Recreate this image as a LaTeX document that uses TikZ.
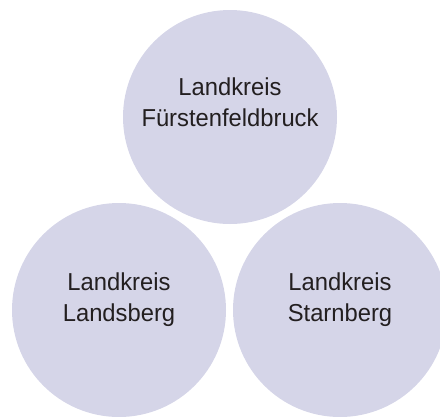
\documentclass[tikz,border=0pt]{standalone}
\usepackage{fontspec}
\setmainfont{Liberation Sans}[FakeStretch=0.97]
\usepackage{tikz}
\definecolor{kreisfarbe}{HTML}{D5D5E8}
\definecolor{schrift}{HTML}{231F20}

\begin{document}
\begin{tikzpicture}[x=1pt,y=-1pt,
  kreis/.style={circle, fill=kreisfarbe, minimum size=214pt, inner sep=0pt},
  beschriftung/.style={align=center, text=schrift, font=\fontsize{24.5}{31.5}\selectfont}]
  \useasboundingbox (0,0) rectangle (440,416);
  % die drei Landkreise
  \node[kreis] (ffb) at (230,117) {};
  \node[kreis] (ll) at (119,310) {};
  \node[kreis] (sta) at (340,310) {};
  \node[beschriftung] (ffbname) at ([yshift=15pt]ffb.center) {Landkreis\\Fürstenfeldbruck};
  \node[beschriftung] (llname) at ([yshift=10.5pt]ll.center) {Landkreis\\Landsberg};
  \node[beschriftung] (staname) at ([yshift=10.5pt]sta.center) {Landkreis\\Starnberg};
\end{tikzpicture}
\end{document}
